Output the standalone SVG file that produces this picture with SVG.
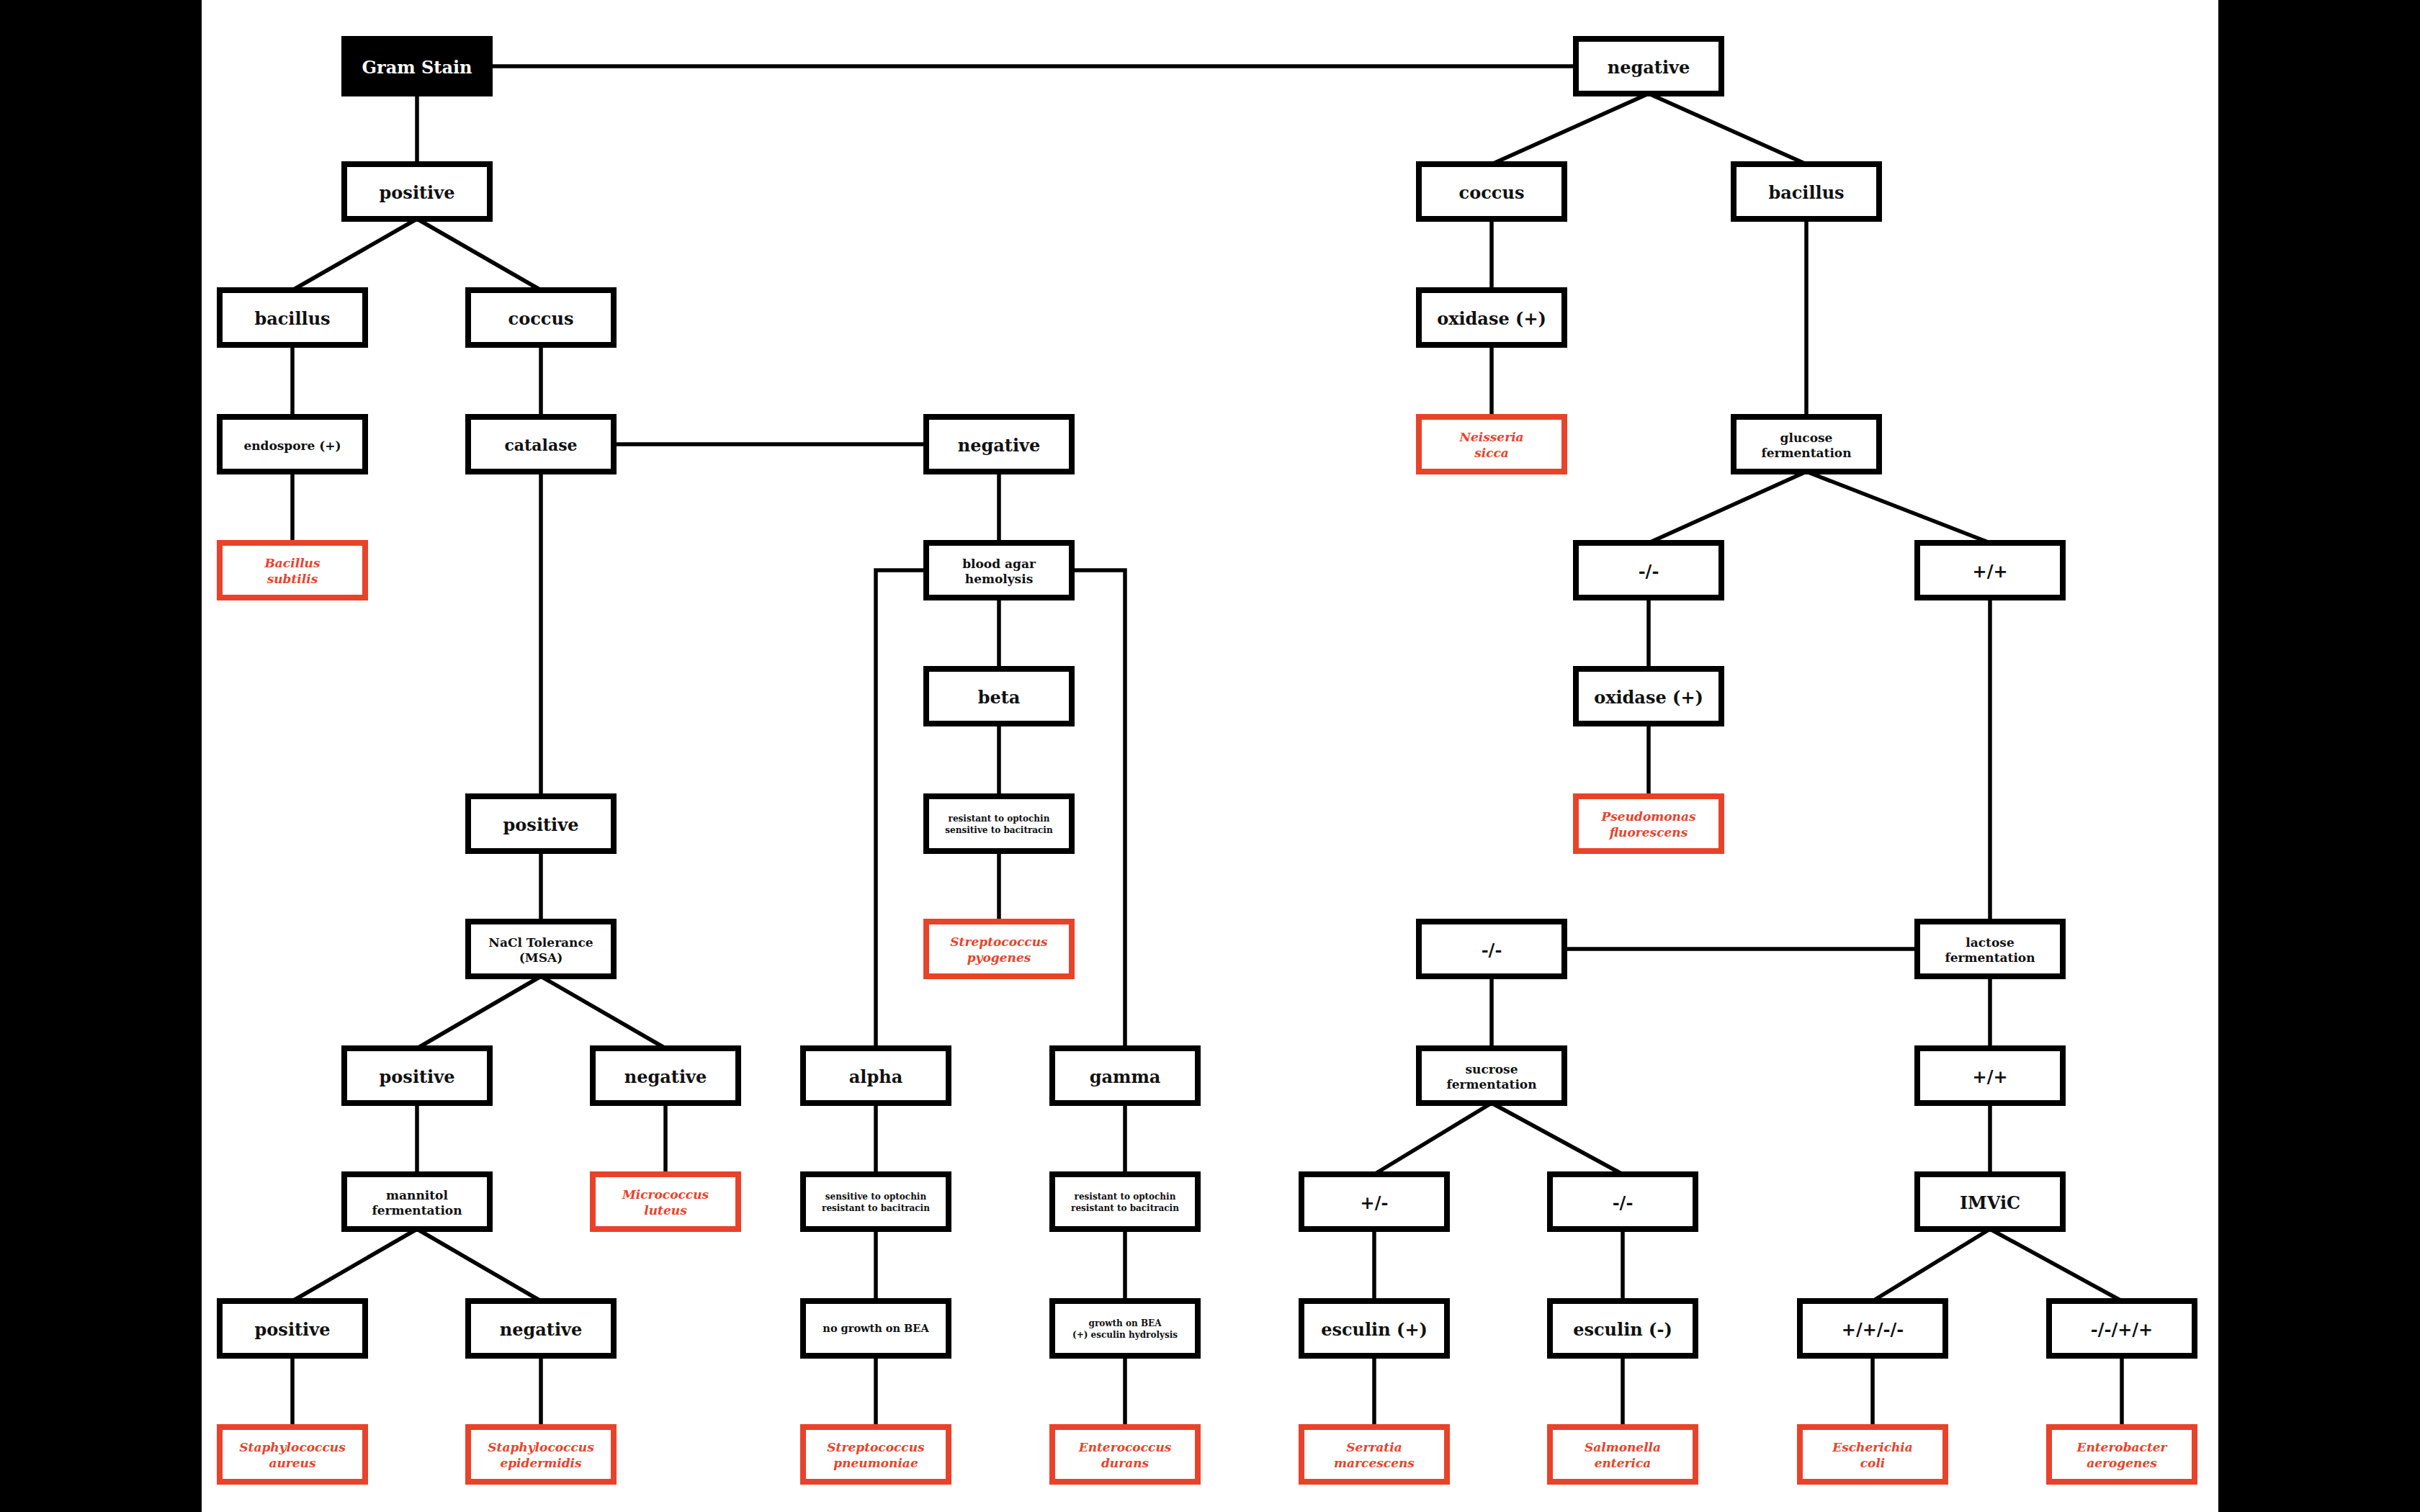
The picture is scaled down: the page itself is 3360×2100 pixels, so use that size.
<svg xmlns="http://www.w3.org/2000/svg" width="3360" height="2100" viewBox="0 0 3360 2100">
<style>
rect.bx{x:-101px;y:-38px;width:202px;height:76px;stroke-width:8}
.nb rect{fill:#fff;stroke:#000}
.nr rect{fill:#fff;stroke:#E8432A}
.nk rect{fill:#000;stroke:#000}
text{font-family:"DejaVu Serif","Liberation Serif",serif;font-weight:bold;text-anchor:middle;fill:#111}
.nk text{fill:#fff}
.nr text{fill:#E8432A;font-style:italic;font-size:17px}
.L{font-size:24px}
.C{font-size:22px}
.M{font-size:17px}
.N{font-size:14.5px}
.S{font-size:12px}
#connectors path{stroke:#000;stroke-width:5.5;fill:none}
</style>
<rect x="0" y="0" width="3360" height="2100" fill="#000"/>
<rect x="280" y="0" width="2800" height="2100" fill="#fff"/>

<g id="connectors">
<path d="M579 130V228"/>
<path d="M684 92H2184"/>
<path d="M579 304L406 403M579 304L751 403"/>
<path d="M406 479V579M406 655V754"/>
<path d="M751 479V579M751 655V1106"/>
<path d="M856 617H1282"/>
<path d="M1387 655V754M1387 830V929M1387 1005V1106M1387 1182V1280"/>
<path d="M1283 792H1216V1456"/>
<path d="M1491 792H1562V1456"/>
<path d="M1216 1532V1631M1216 1707V1807M1216 1883V1982"/>
<path d="M1562 1532V1631M1562 1707V1807M1562 1883V1982"/>
<path d="M751 1182V1280"/>
<path d="M751 1356L579 1456M751 1356L924 1456"/>
<path d="M924 1532V1631M579 1532V1631"/>
<path d="M579 1707L406 1807M579 1707L751 1807"/>
<path d="M406 1883V1982M751 1883V1982"/>
<path d="M2289 130L2071 228M2289 130L2508 228"/>
<path d="M2071 304V403M2071 479V579"/>
<path d="M2508 304V579"/>
<path d="M2508 655L2289 754M2508 655L2763 754"/>
<path d="M2289 830V929M2289 1005V1106"/>
<path d="M2763 830V1280"/>
<path d="M2176 1318H2658"/>
<path d="M2071 1356V1456"/>
<path d="M2071 1532L1908 1631M2071 1532L2253 1631"/>
<path d="M1908 1707V1807M1908 1883V1982"/>
<path d="M2253 1707V1807M2253 1883V1982"/>
<path d="M2763 1356V1456M2763 1532V1631"/>
<path d="M2763 1707L2600 1807M2763 1707L2946 1807"/>
<path d="M2600 1883V1982M2946 1883V1982"/>
</g>

<g id="gram-stain" class="nk" transform="translate(579,92)"><rect class="bx" x="-101" y="-38" width="202" height="76"/><text class="L" y="10">Gram Stain</text></g>
<g id="gp-positive" class="nb" transform="translate(579,266)"><rect class="bx" x="-101" y="-38" width="202" height="76"/><text class="L" y="10">positive</text></g>
<g id="gp-bacillus" class="nb" transform="translate(406,441)"><rect class="bx" x="-101" y="-38" width="202" height="76"/><text class="L" y="10">bacillus</text></g>
<g id="gp-coccus" class="nb" transform="translate(751,441)"><rect class="bx" x="-101" y="-38" width="202" height="76"/><text class="L" y="10">coccus</text></g>
<g id="endospore" class="nb" transform="translate(406,617)"><rect class="bx" x="-101" y="-38" width="202" height="76"/><text class="M" y="8">endospore (+)</text></g>
<g id="b-subtilis" class="nr" transform="translate(406,792)"><rect class="bx" x="-101" y="-38" width="202" height="76"/><text y="-4">Bacillus</text><text y="18">subtilis</text></g>
<g id="catalase" class="nb" transform="translate(751,617)"><rect class="bx" x="-101" y="-38" width="202" height="76"/><text class="C" y="9">catalase</text></g>
<g id="catalase-negative" class="nb" transform="translate(1387,617)"><rect class="bx" x="-101" y="-38" width="202" height="76"/><text class="L" y="10">negative</text></g>
<g id="blood-agar" class="nb" transform="translate(1387,792)"><rect class="bx" x="-101" y="-38" width="202" height="76"/><text class="M" y="-3">blood agar</text><text class="M" y="18">hemolysis</text></g>
<g id="beta" class="nb" transform="translate(1387,967)"><rect class="bx" x="-101" y="-38" width="202" height="76"/><text class="L" y="10">beta</text></g>
<g id="beta-test" class="nb" transform="translate(1387,1144)"><rect class="bx" x="-101" y="-38" width="202" height="76"/><text class="S" y="-3">resistant to optochin</text><text class="S" y="13">sensitive to bacitracin</text></g>
<g id="s-pyogenes" class="nr" transform="translate(1387,1318)"><rect class="bx" x="-101" y="-38" width="202" height="76"/><text y="-4">Streptococcus</text><text y="18">pyogenes</text></g>
<g id="alpha" class="nb" transform="translate(1216,1494)"><rect class="bx" x="-101" y="-38" width="202" height="76"/><text class="L" y="10">alpha</text></g>
<g id="alpha-test" class="nb" transform="translate(1216,1669)"><rect class="bx" x="-101" y="-38" width="202" height="76"/><text class="S" y="-3">sensitive to optochin</text><text class="S" y="13">resistant to bacitracin</text></g>
<g id="alpha-bea" class="nb" transform="translate(1216,1845)"><rect class="bx" x="-101" y="-38" width="202" height="76"/><text class="N" y="5">no growth on BEA</text></g>
<g id="s-pneumoniae" class="nr" transform="translate(1216,2020)"><rect class="bx" x="-101" y="-38" width="202" height="76"/><text y="-4">Streptococcus</text><text y="18">pneumoniae</text></g>
<g id="gamma" class="nb" transform="translate(1562,1494)"><rect class="bx" x="-101" y="-38" width="202" height="76"/><text class="L" y="10">gamma</text></g>
<g id="gamma-test" class="nb" transform="translate(1562,1669)"><rect class="bx" x="-101" y="-38" width="202" height="76"/><text class="S" y="-3">resistant to optochin</text><text class="S" y="13">resistant to bacitracin</text></g>
<g id="gamma-bea" class="nb" transform="translate(1562,1845)"><rect class="bx" x="-101" y="-38" width="202" height="76"/><text class="S" y="-3">growth on BEA</text><text class="S" y="13">(+) esculin hydrolysis</text></g>
<g id="e-durans" class="nr" transform="translate(1562,2020)"><rect class="bx" x="-101" y="-38" width="202" height="76"/><text y="-4">Enterococcus</text><text y="18">durans</text></g>
<g id="catalase-positive" class="nb" transform="translate(751,1144)"><rect class="bx" x="-101" y="-38" width="202" height="76"/><text class="L" y="10">positive</text></g>
<g id="nacl" class="nb" transform="translate(751,1318)"><rect class="bx" x="-101" y="-38" width="202" height="76"/><text class="M" y="-3">NaCl Tolerance</text><text class="M" y="18">(MSA)</text></g>
<g id="msa-positive" class="nb" transform="translate(579,1494)"><rect class="bx" x="-101" y="-38" width="202" height="76"/><text class="L" y="10">positive</text></g>
<g id="msa-negative" class="nb" transform="translate(924,1494)"><rect class="bx" x="-101" y="-38" width="202" height="76"/><text class="L" y="10">negative</text></g>
<g id="m-luteus" class="nr" transform="translate(924,1669)"><rect class="bx" x="-101" y="-38" width="202" height="76"/><text y="-4">Micrococcus</text><text y="18">luteus</text></g>
<g id="mannitol" class="nb" transform="translate(579,1669)"><rect class="bx" x="-101" y="-38" width="202" height="76"/><text class="M" y="-3">mannitol</text><text class="M" y="18">fermentation</text></g>
<g id="mannitol-positive" class="nb" transform="translate(406,1845)"><rect class="bx" x="-101" y="-38" width="202" height="76"/><text class="L" y="10">positive</text></g>
<g id="mannitol-negative" class="nb" transform="translate(751,1845)"><rect class="bx" x="-101" y="-38" width="202" height="76"/><text class="L" y="10">negative</text></g>
<g id="s-aureus" class="nr" transform="translate(406,2020)"><rect class="bx" x="-101" y="-38" width="202" height="76"/><text y="-4">Staphylococcus</text><text y="18">aureus</text></g>
<g id="s-epidermidis" class="nr" transform="translate(751,2020)"><rect class="bx" x="-101" y="-38" width="202" height="76"/><text y="-4">Staphylococcus</text><text y="18">epidermidis</text></g>

<g id="gn-negative" class="nb" transform="translate(2289,92)"><rect class="bx" x="-101" y="-38" width="202" height="76"/><text class="L" y="10">negative</text></g>
<g id="gn-coccus" class="nb" transform="translate(2071,266)"><rect class="bx" x="-101" y="-38" width="202" height="76"/><text class="L" y="10">coccus</text></g>
<g id="gn-bacillus" class="nb" transform="translate(2508,266)"><rect class="bx" x="-101" y="-38" width="202" height="76"/><text class="L" y="10">bacillus</text></g>
<g id="oxidase-1" class="nb" transform="translate(2071,441)"><rect class="bx" x="-101" y="-38" width="202" height="76"/><text class="L" y="10">oxidase (+)</text></g>
<g id="n-sicca" class="nr" transform="translate(2071,617)"><rect class="bx" x="-101" y="-38" width="202" height="76"/><text y="-4">Neisseria</text><text y="18">sicca</text></g>
<g id="glucose" class="nb" transform="translate(2508,617)"><rect class="bx" x="-101" y="-38" width="202" height="76"/><text class="M" y="-3">glucose</text><text class="M" y="18">fermentation</text></g>
<g id="glucose-mm" class="nb" transform="translate(2289,792)"><rect class="bx" x="-101" y="-38" width="202" height="76"/><text class="L" y="10">-/-</text></g>
<g id="glucose-pp" class="nb" transform="translate(2763,792)"><rect class="bx" x="-101" y="-38" width="202" height="76"/><text class="L" y="10">+/+</text></g>
<g id="oxidase-2" class="nb" transform="translate(2289,967)"><rect class="bx" x="-101" y="-38" width="202" height="76"/><text class="L" y="10">oxidase (+)</text></g>
<g id="p-fluorescens" class="nr" transform="translate(2289,1144)"><rect class="bx" x="-101" y="-38" width="202" height="76"/><text y="-4">Pseudomonas</text><text y="18">fluorescens</text></g>
<g id="lactose" class="nb" transform="translate(2763,1318)"><rect class="bx" x="-101" y="-38" width="202" height="76"/><text class="M" y="-3">lactose</text><text class="M" y="18">fermentation</text></g>
<g id="lactose-mm" class="nb" transform="translate(2071,1318)"><rect class="bx" x="-101" y="-38" width="202" height="76"/><text class="L" y="10">-/-</text></g>
<g id="sucrose" class="nb" transform="translate(2071,1494)"><rect class="bx" x="-101" y="-38" width="202" height="76"/><text class="M" y="-3">sucrose</text><text class="M" y="18">fermentation</text></g>
<g id="sucrose-pm" class="nb" transform="translate(1908,1669)"><rect class="bx" x="-101" y="-38" width="202" height="76"/><text class="L" y="10">+/-</text></g>
<g id="sucrose-mm" class="nb" transform="translate(2253,1669)"><rect class="bx" x="-101" y="-38" width="202" height="76"/><text class="L" y="10">-/-</text></g>
<g id="esculin-pos" class="nb" transform="translate(1908,1845)"><rect class="bx" x="-101" y="-38" width="202" height="76"/><text class="L" y="10">esculin (+)</text></g>
<g id="esculin-neg" class="nb" transform="translate(2253,1845)"><rect class="bx" x="-101" y="-38" width="202" height="76"/><text class="L" y="10">esculin (-)</text></g>
<g id="s-marcescens" class="nr" transform="translate(1908,2020)"><rect class="bx" x="-101" y="-38" width="202" height="76"/><text y="-4">Serratia</text><text y="18">marcescens</text></g>
<g id="s-enterica" class="nr" transform="translate(2253,2020)"><rect class="bx" x="-101" y="-38" width="202" height="76"/><text y="-4">Salmonella</text><text y="18">enterica</text></g>
<g id="lactose-pp" class="nb" transform="translate(2763,1494)"><rect class="bx" x="-101" y="-38" width="202" height="76"/><text class="L" y="10">+/+</text></g>
<g id="imvic" class="nb" transform="translate(2763,1669)"><rect class="bx" x="-101" y="-38" width="202" height="76"/><text class="L" y="10">IMViC</text></g>
<g id="imvic-ppmm" class="nb" transform="translate(2600,1845)"><rect class="bx" x="-101" y="-38" width="202" height="76"/><text class="L" y="10">+/+/-/-</text></g>
<g id="imvic-mmpp" class="nb" transform="translate(2946,1845)"><rect class="bx" x="-101" y="-38" width="202" height="76"/><text class="L" y="10">-/-/+/+</text></g>
<g id="e-coli" class="nr" transform="translate(2600,2020)"><rect class="bx" x="-101" y="-38" width="202" height="76"/><text y="-4">Escherichia</text><text y="18">coli</text></g>
<g id="e-aerogenes" class="nr" transform="translate(2946,2020)"><rect class="bx" x="-101" y="-38" width="202" height="76"/><text y="-4">Enterobacter</text><text y="18">aerogenes</text></g>
</svg>
